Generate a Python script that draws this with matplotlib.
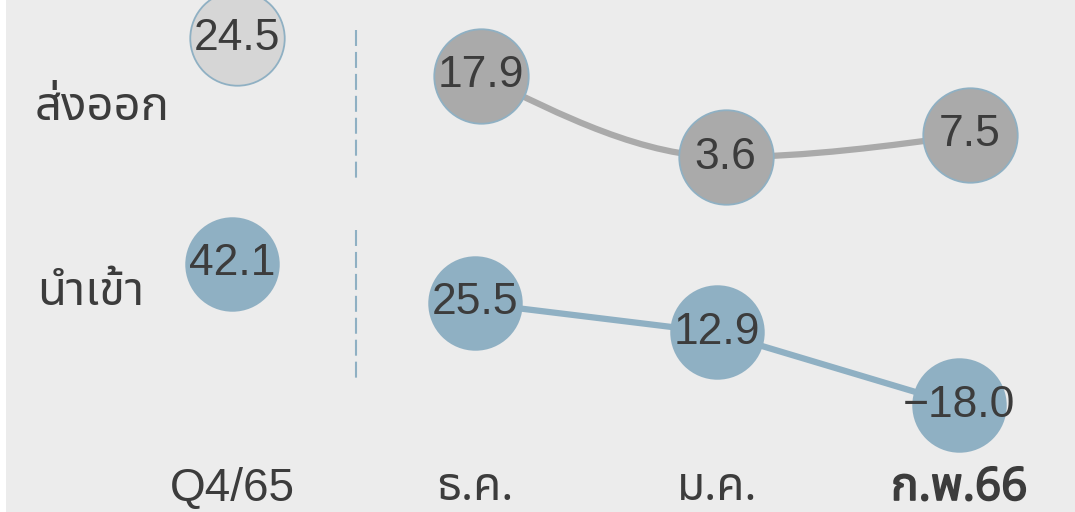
import matplotlib
matplotlib.use("Agg")
import matplotlib.pyplot as plt
from matplotlib import font_manager
from matplotlib import patheffects as pe
from matplotlib.lines import Line2D
from matplotlib.path import Path
from matplotlib.patches import PathPatch
from fontTools.ttLib import TTFont

# ข้อมูล (% YoY)
periods = ["Q4/65", "ธ.ค.", "ม.ค.", "ก.พ.66"]
export_vals = [24.5, 17.9, 3.6, 7.5]
import_vals = [42.1, 25.5, 12.9, -18.0]
row_labels = ["ส่งออก", "นำเข้า"]

BG = "#ececec"
BLUE = "#8fb0c3"
GREY = "#aaaaaa"
LIGHT = "#d6d6d6"
TXT = "#3c3c3c"


# หาฟอนต์ที่มีอักษรไทย
def find_thai_font():
    prefer = ["Noto Sans Thai", "Noto Sans Thai Looped", "Loma", "Garuda", "Sarabun", "Tlwg Typo"]
    found = {}
    for f in font_manager.fontManager.ttflist:
        try:
            cmap = TTFont(f.fname, fontNumber=0, lazy=True).getBestCmap()
        except Exception:
            continue
        if cmap and 0x0E2A in cmap:
            found.setdefault(f.name, []).append(f.weight)
    name = "DejaVu Sans"
    for p in prefer:
        if p in found:
            name = p
            break
    else:
        if found:
            name = list(found)[0]
    weights = found.get(name, [])
    has_bold = any((w if isinstance(w, int) else 400) >= 600 or w == "bold" for w in weights)
    return name, has_bold


thai, thai_bold = find_thai_font()
plt.rcParams["font.family"] = ["Liberation Sans", thai, "DejaVu Sans"]
plt.rcParams["lines.scale_dashes"] = False

W, H = 1075, 512
fig = plt.figure(figsize=(W / 100, H / 100), dpi=100)
fig.patch.set_facecolor("white")

left = 6 / W
ax_e = fig.add_axes([left, 0, 1 - left, 1])
ax_i = fig.add_axes([left, 0, 1 - left, 1])
ax_e.set_facecolor(BG)
ax_i.set_facecolor("none")
for ax in (ax_e, ax_i):
    for s in ax.spines.values():
        s.set_visible(False)
    ax.set_xticks([])
    ax.set_yticks([])

ax_e.set_xlim(-0.943, 3.429)
ax_e.set_ylim(-58.8, 31.2)
ax_i.set_xlim(-0.935, 3.479)
ax_i.set_ylim(-63.6, 154.6)

x = list(range(len(periods)))

# เส้นส่งออก (โค้ง monotone)
xs, ys = x[1:], export_vals[1:]
sl = [(ys[k + 1] - ys[k]) / (xs[k + 1] - xs[k]) for k in range(len(xs) - 1)]
tan = [0.0] * len(xs)
for k in range(1, len(xs) - 1):
    tan[k] = 0.0 if sl[k - 1] * sl[k] <= 0 else 2 / (1 / sl[k - 1] + 1 / sl[k])
tan[0] = (3 * sl[0] - tan[1]) / 2
tan[-1] = (3 * sl[-1] - tan[-2]) / 2
verts = [(xs[0], ys[0])]
codes = [Path.MOVETO]
for k in range(len(xs) - 1):
    d = (xs[k + 1] - xs[k]) / 3
    verts += [(xs[k] + d, ys[k] + tan[k] * d),
              (xs[k + 1] - d, ys[k + 1] - tan[k + 1] * d),
              (xs[k + 1], ys[k + 1])]
    codes += [Path.CURVE4] * 3
ax_e.add_patch(PathPatch(Path(verts, codes), fill=False, edgecolor=GREY, lw=4.5,
                         capstyle="round", zorder=1))

# เส้นนำเข้า
ax_i.plot(x[1:], import_vals[1:], color=BLUE, lw=4.5, zorder=1, solid_capstyle="round")

# วงกลม
ms = 68
for i, v in enumerate(export_vals):
    face = LIGHT if i == 0 else GREY
    ax_e.plot(i, v, "o", ms=ms, mfc=face, mec=BLUE, mew=1.3, zorder=2, clip_on=False)
    ax_e.text(i, v, f"{v:.1f}".replace("-", "−"), ha="center", va="center",
              fontsize=32, color=TXT, zorder=3)
for i, v in enumerate(import_vals):
    ax_i.plot(i, v, "o", ms=ms, mfc=BLUE, mec=BLUE, mew=0, zorder=2, clip_on=False)
    ax_i.text(i, v, f"{v:.1f}".replace("-", "−"), ha="center", va="center",
              fontsize=32, color=TXT, zorder=3)

# เส้นประแบ่ง
for y0, y1 in [(30, 178), (230, 378)]:
    fig.add_artist(Line2D([356 / W, 356 / W], [1 - y0 / H, 1 - y1 / H],
                          transform=fig.transFigure, color=BLUE, lw=1.5,
                          linestyle=(0, (11.5, 4.3))))

# ป้ายแถว
fig.text(35 / W, 1 - 120 / H, row_labels[0], fontsize=34, color=TXT,
         family=[thai, "DejaVu Sans"], va="baseline", ha="left")
fig.text(37 / W, 1 - 305 / H, row_labels[1], fontsize=34, color=TXT,
         family=[thai, "DejaVu Sans"], va="baseline", ha="left")

# ป้ายช่วงเวลา
for i, p in enumerate(periods):
    fam = ["Liberation Sans"] if i == 0 else [thai, "Liberation Sans"]
    t = ax_i.text(i, 1 / H, p, transform=ax_i.get_xaxis_transform(), ha="center",
                  va="bottom", fontsize=33, color=TXT, family=fam)
    if i == len(periods) - 1:
        t.set_fontweight("bold")
        if not thai_bold:
            t.set_path_effects([pe.withStroke(linewidth=1.2, foreground=TXT)])

fig.savefig("out.png", dpi=100, facecolor=fig.get_facecolor())
